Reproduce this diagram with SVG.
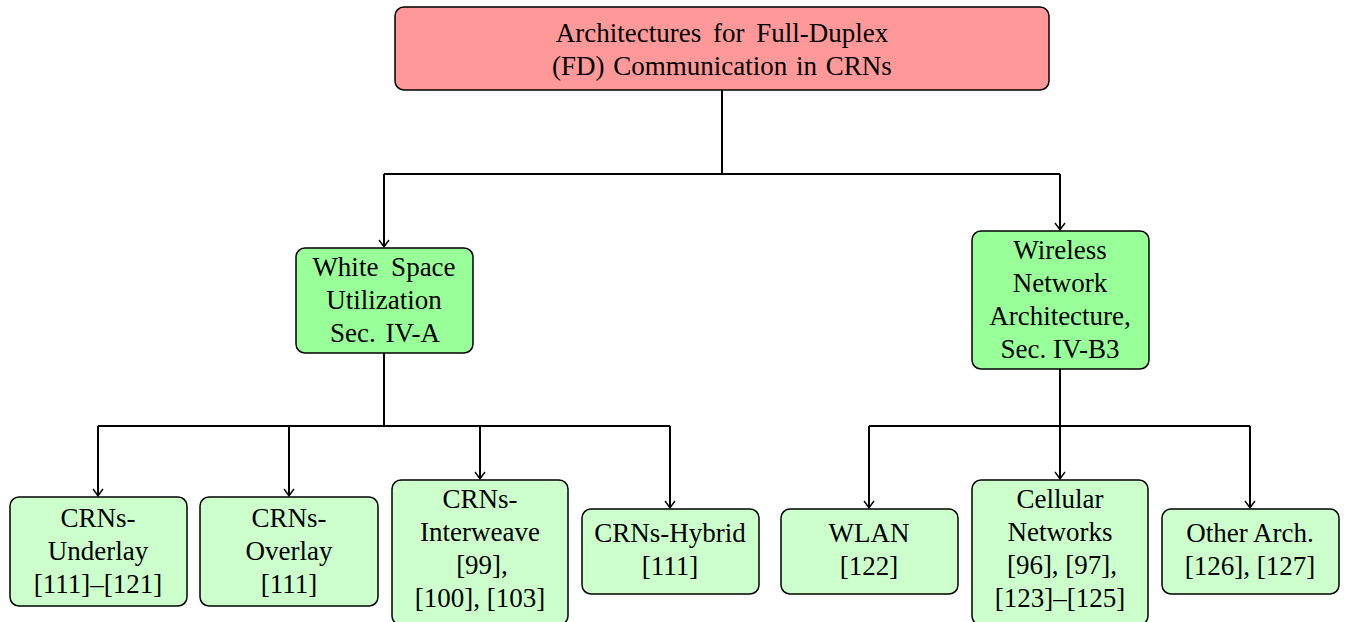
<svg xmlns="http://www.w3.org/2000/svg" width="1348" height="622" viewBox="0 0 1348 622">
<style>
.box{stroke:#000;stroke-width:1.5}
.root{fill:#ff9999}
.mid{fill:#99ff99}
.leaf{fill:#ccffcc}
text{font-family:"Liberation Serif","Times New Roman",serif;font-size:27px;fill:#000;text-anchor:middle}
.c{fill:none;stroke:#000;stroke-width:2}
</style>
<defs>
<marker id="arr" markerUnits="userSpaceOnUse" markerWidth="12" markerHeight="12" viewBox="-8 -6 9 12" refX="0" refY="0" orient="auto">
<path d="M -7 -5 Q -2 -1.2 0 0 Q -2 1.2 -7 5" fill="none" stroke="#000" stroke-width="1.4"/>
</marker>
</defs>
<g id="connectors">
<path class="c" d="M722 90 V174 M384 174 H1060"/>
<path class="c" d="M384 174 V247" marker-end="url(#arr)"/>
<path class="c" d="M1060 174 V230" marker-end="url(#arr)"/>
<path class="c" d="M384 353 V426 M98 426 H670"/>
<path class="c" d="M98 426 V496" marker-end="url(#arr)"/>
<path class="c" d="M289 426 V496" marker-end="url(#arr)"/>
<path class="c" d="M480 426 V479" marker-end="url(#arr)"/>
<path class="c" d="M670 426 V508" marker-end="url(#arr)"/>
<path class="c" d="M1060 369 V426 M869 426 H1250"/>
<path class="c" d="M869 426 V508" marker-end="url(#arr)"/>
<path class="c" d="M1060 426 V479" marker-end="url(#arr)"/>
<path class="c" d="M1250 426 V508" marker-end="url(#arr)"/>
</g>
<g id="root">
<rect class="box root" x="395" y="7" width="654" height="83" rx="9"/>
<text x="722" y="42" word-spacing="5">Architectures for Full-Duplex</text>
<text x="722" y="75" word-spacing="2">(FD) Communication in CRNs</text>
</g>
<g id="whitespace">
<rect class="box mid" x="296" y="248" width="177" height="105" rx="9"/>
<text x="384" y="276" word-spacing="6">White Space</text>
<text x="384" y="309">Utilization</text>
<text x="385" y="342" word-spacing="3">Sec. IV-A</text>
</g>
<g id="wireless">
<rect class="box mid" x="972" y="231" width="177" height="138" rx="9"/>
<text x="1060" y="259">Wireless</text>
<text x="1060" y="292">Network</text>
<text x="1060" y="325">Architecture,</text>
<text x="1060" y="358">Sec. IV-B3</text>
</g>
<g id="underlay">
<rect class="box leaf" x="10" y="497" width="177" height="109" rx="9"/>
<text x="98" y="527">CRNs-</text>
<text x="98" y="560">Underlay</text>
<text x="98" y="593">[111]–[121]</text>
</g>
<g id="overlay">
<rect class="box leaf" x="200" y="497" width="178" height="109" rx="9"/>
<text x="289" y="527">CRNs-</text>
<text x="289" y="560">Overlay</text>
<text x="289" y="593">[111]</text>
</g>
<g id="interweave">
<rect class="box leaf" x="392" y="480" width="176" height="145" rx="9"/>
<text x="480" y="508">CRNs-</text>
<text x="480" y="541">Interweave</text>
<text x="482" y="574">[99],</text>
<text x="480" y="607">[100], [103]</text>
</g>
<g id="hybrid">
<rect class="box leaf" x="582" y="509" width="177" height="85" rx="9"/>
<text x="670" y="542">CRNs-Hybrid</text>
<text x="670" y="575">[111]</text>
</g>
<g id="wlan">
<rect class="box leaf" x="781" y="509" width="177" height="85" rx="9"/>
<text x="869" y="542">WLAN</text>
<text x="869" y="575">[122]</text>
</g>
<g id="cellular">
<rect class="box leaf" x="972" y="480" width="176" height="145" rx="9"/>
<text x="1060" y="508">Cellular</text>
<text x="1060" y="541">Networks</text>
<text x="1062" y="574">[96], [97],</text>
<text x="1060" y="607">[123]–[125]</text>
</g>
<g id="other">
<rect class="box leaf" x="1162" y="509" width="177" height="85" rx="9"/>
<text x="1250" y="542">Other Arch.</text>
<text x="1250" y="575">[126], [127]</text>
</g>
</svg>
